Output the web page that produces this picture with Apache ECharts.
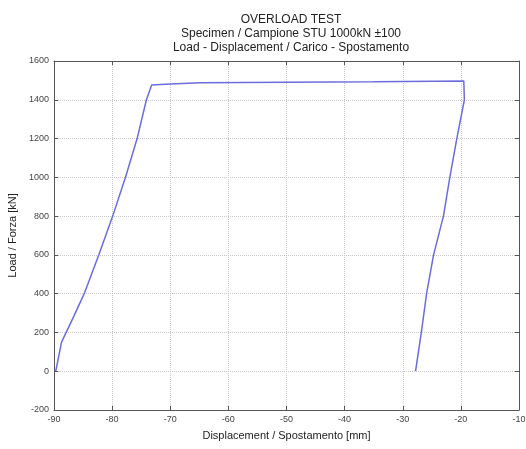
<!DOCTYPE html>
<html>
<head>
<meta charset="utf-8">
<script src="https://cdn.jsdelivr.net/npm/echarts@6/dist/echarts.min.js"></script>
<style>html,body{margin:0;padding:0;background:#fff}#c{width:526px;height:449px}</style>
</head>
<body>
<div id="c"></div>
<script>
const titleLines = ["OVERLOAD TEST", "Specimen / Campione STU 1000kN \u00b1100", "Load - Displacement / Carico - Spostamento"];
const xLabel = "Displacement / Spostamento [mm]";
const yLabel = "Load / Forza [kN]";
const displacement = [-89.7, -89.5, -89.3, -88.7, -86.8, -84.8, -82.3, -79.9, -77.7, -75.7, -74.1, -73.2, -70.0, -64.8, -50.0, -35.0, -19.5, -19.4, -20.7, -21.9, -23.0, -24.7, -25.9, -26.8, -27.8];
const load = [0, 10, 60, 150, 270, 400, 600, 800, 1000, 1200, 1400, 1476, 1482, 1488, 1491, 1493, 1497, 1400, 1200, 1000, 800, 600, 400, 200, 0];
const xTicks = {min: -90, max: -10, interval: 10};
const yTicks = {min: -200, max: 1600, interval: 200};

const data = displacement.map((x, i) => [x, load[i]]);
const chart = echarts.init(document.getElementById('c'), null, {renderer: 'canvas'});
const font = 'Liberation Sans, Arial, sans-serif';
const frameAxis = {
  axisLine: {show: true, onZero: false, lineStyle: {color: '#555', width: 1}},
  axisTick: {show: true, inside: true, length: 4, lineStyle: {color: '#555'}},
  axisLabel: {show: false},
  splitLine: {show: false}
};
const plain = v => String(v);
chart.setOption({
  animation: false,
  backgroundColor: '#fff',
  title: {
    text: titleLines.join('\n'),
    left: 286, textAlign: 'center', top: 8,
    textStyle: {fontFamily: font, fontSize: 12, fontWeight: 'normal', color: '#222', lineHeight: 14}
  },
  grid: {left: 54, right: 7, top: 61, bottom: 39, containLabel: false, outerBoundsMode: 'none'},
  xAxis: [{
    type: 'value', min: xTicks.min, max: xTicks.max, interval: xTicks.interval,
    name: xLabel, nameLocation: 'middle', nameGap: 20,
    nameTextStyle: {fontFamily: font, fontSize: 11, color: '#222'},
    axisLine: {show: true, onZero: false, lineStyle: {color: '#555'}},
    axisTick: {show: true, inside: true, length: 4, lineStyle: {color: '#555'}},
    axisLabel: {fontFamily: font, fontSize: 9, color: '#444', margin: 5, formatter: plain},
    splitLine: {show: true, lineStyle: {color: '#c8c8c8', type: 'dotted'}}
  }, Object.assign({type: 'value', position: 'top', min: xTicks.min, max: xTicks.max, interval: xTicks.interval}, frameAxis)],
  yAxis: [{
    type: 'value', min: yTicks.min, max: yTicks.max, interval: yTicks.interval,
    name: yLabel, nameLocation: 'middle', nameGap: 31,
    nameTextStyle: {fontFamily: font, fontSize: 11, color: '#222'},
    axisLine: {show: true, onZero: false, lineStyle: {color: '#555'}},
    axisTick: {show: true, inside: true, length: 4, lineStyle: {color: '#555'}},
    axisLabel: {fontFamily: font, fontSize: 9, color: '#444', margin: 5, formatter: plain},
    splitLine: {show: true, lineStyle: {color: '#c8c8c8', type: 'dotted'}}
  }, Object.assign({type: 'value', position: 'right', min: yTicks.min, max: yTicks.max, interval: yTicks.interval}, frameAxis)],
  series: [{
    type: 'line', data: data, showSymbol: false, symbol: 'none',
    lineStyle: {color: '#6c6cdc', width: 1.5}
  }]
});
</script>
</body>
</html>
